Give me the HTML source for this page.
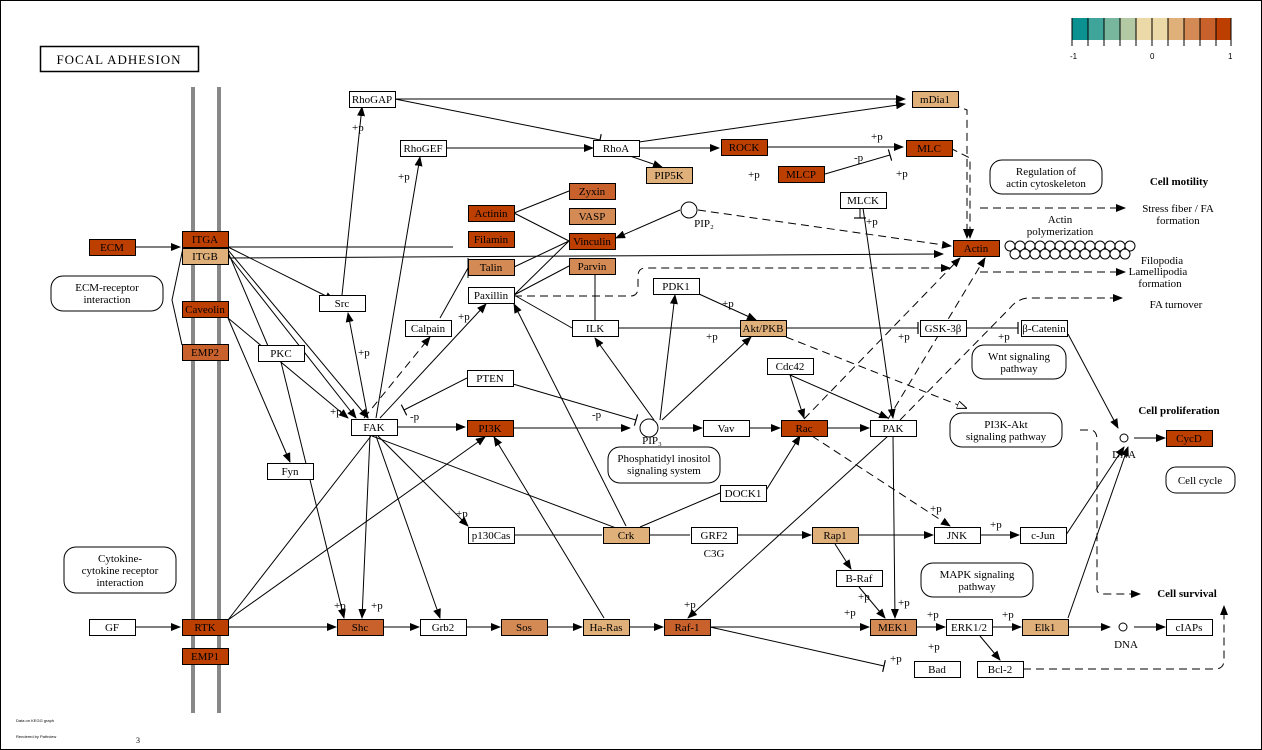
<!DOCTYPE html>
<html><head><meta charset="utf-8"><style>
html,body{margin:0;padding:0;background:#fff}
svg{display:block}
text{font-family:"Liberation Serif",serif;font-size:11px;fill:#000}
.n rect{stroke:#000;stroke-width:1}
.l{stroke:#000;stroke-width:1;fill:none}
.d{stroke:#000;stroke-width:1;fill:none;stroke-dasharray:8,5}
.s{font-size:11px}
</style></head><body>
<svg width="1262" height="750" viewBox="0 0 1262 750" xmlns="http://www.w3.org/2000/svg">
<defs>
<marker id="a" markerWidth="10" markerHeight="8" refX="9" refY="4" orient="auto" markerUnits="userSpaceOnUse"><path d="M0,0 L10,4 L0,8 z" fill="#000"/></marker>
<marker id="o" markerWidth="10" markerHeight="8" refX="9" refY="4" orient="auto" markerUnits="userSpaceOnUse"><path d="M0,0 L10,4 L0,8 z" fill="#fff" stroke="#000"/></marker>
<marker id="t" markerWidth="2" markerHeight="12" refX="1" refY="6" orient="auto" markerUnits="userSpaceOnUse"><path d="M1,0 L1,12" stroke="#000" stroke-width="1.2"/></marker>
</defs>
<rect x="0.5" y="0.5" width="1261" height="749" fill="none" stroke="#000"/>
<!-- legend -->
<g stroke="#000">
<rect x="1072" y="18" width="16" height="22" fill="#0C9191" stroke="none"/>
<rect x="1088" y="18" width="16" height="22" fill="#3FA49A" stroke="none"/>
<rect x="1104" y="18" width="16" height="22" fill="#78B79E" stroke="none"/>
<rect x="1120" y="18" width="16" height="22" fill="#B2C9A3" stroke="none"/>
<rect x="1136" y="18" width="16" height="22" fill="#ECD9A8" stroke="none"/>
<rect x="1152" y="18" width="16" height="22" fill="#ECD9A8" stroke="none"/>
<rect x="1168" y="18" width="16" height="22" fill="#E0B07A" stroke="none"/>
<rect x="1184" y="18" width="16" height="22" fill="#D48A55" stroke="none"/>
<rect x="1200" y="18" width="16" height="22" fill="#C8612C" stroke="none"/>
<rect x="1216" y="18" width="15" height="22" fill="#BC3F00" stroke="none"/>
<path d="M1072,18v28M1088,18v28M1104,18v28M1120,18v28M1136,18v28M1152,18v28M1168,18v28M1184,18v28M1200,18v28M1216,18v28M1231,18v28"/>
</g>
<text x="1070" y="59" style="font-size:8px;font-family:'Liberation Sans',sans-serif">-1</text>
<text x="1150" y="59" style="font-size:8px;font-family:'Liberation Sans',sans-serif">0</text>
<text x="1228" y="59" style="font-size:8px;font-family:'Liberation Sans',sans-serif">1</text>
<!-- title -->
<rect x="40.5" y="46.5" width="158" height="25" fill="#fff" stroke="#000" stroke-width="1.5"/>
<text x="119" y="64" text-anchor="middle" style="font-size:13px;letter-spacing:1px">FOCAL ADHESION</text>
<!-- membrane -->
<rect x="191" y="87" width="4" height="626" fill="#888"/>
<rect x="217" y="87" width="4" height="626" fill="#888"/>

<!-- edges -->
<g class="l">
<path d="M136,247H180" marker-end="url(#a)"/>
<path d="M228,247H453"/>
<path d="M228,247L334,300" marker-end="url(#a)"/>
<path d="M228,250L368,418" marker-end="url(#a)"/>
<path d="M228,252L268,346"/>
<path d="M228,255L356,418" marker-end="url(#a)"/>
<path d="M228,258L943,254" marker-end="url(#a)"/>
<path d="M183,248L172,300L182,345"/>
<path d="M228,318L348,418" marker-end="url(#a)"/>
<path d="M228,318L290,462" marker-end="url(#a)"/>
<path d="M281,362L344,618" marker-end="url(#a)"/>
<path d="M342,295L362,107" marker-end="url(#a)"/>
<path d="M395,99L600,140" marker-end="url(#t)"/>
<path d="M395,99L905,99" marker-end="url(#a)"/>
<path d="M446,148H593" marker-end="url(#a)"/>
<path d="M639,148H719" marker-end="url(#a)"/>
<path d="M639,142L905,104" marker-end="url(#a)"/>
<path d="M767,147H903" marker-end="url(#a)"/>
<path d="M825,174L890,155" marker-end="url(#t)"/>
<path d="M630,156L662,167" marker-end="url(#a)"/>
<path d="M680,210L616,238" marker-end="url(#a)"/>
<path d="M376,418L420,157" marker-end="url(#a)"/>
<path d="M368,418L348,313" marker-end="url(#a)"/>
<path d="M380,418L486,304" marker-end="url(#a)"/>
<path d="M380,427H465" marker-end="url(#a)"/>
<path d="M514,428H630" marker-end="url(#a)"/>
<path d="M370,436L362,618" marker-end="url(#a)"/>
<path d="M376,436L440,618" marker-end="url(#a)"/>
<path d="M378,436L468,526" marker-end="url(#a)"/>
<path d="M372,436L640,537"/>
<path d="M467,378L404,410" marker-end="url(#t)"/>
<path d="M513,384L636,420" marker-end="url(#t)"/>
<path d="M514,213L569,191M514,213L569,241M514,267L569,241M514,295L569,241M514,295L569,266M514,295L572,328"/>
<path d="M468,258V278"/>
<path d="M440,318L468,268"/>
<path d="M595,274V320"/>
<path d="M618,328H752" marker-end="url(#a)"/>
<path d="M660,420L675,295" marker-end="url(#a)"/>
<path d="M654,420L595,338" marker-end="url(#a)"/>
<path d="M662,420L751,337" marker-end="url(#a)"/>
<path d="M699,294L756,320" marker-end="url(#a)"/>
<path d="M786,328L918,328" marker-end="url(#t)"/>
<path d="M966,328H1018" marker-end="url(#t)"/>
<path d="M1068,334L1118,428" marker-end="url(#a)"/>
<path d="M660,428H702" marker-end="url(#a)"/>
<path d="M749,428H780" marker-end="url(#a)"/>
<path d="M827,428H869" marker-end="url(#a)"/>
<path d="M790,375L804,418" marker-end="url(#a)"/>
<path d="M790,375L888,418" marker-end="url(#a)"/>
<path d="M765,492L800,436" marker-end="url(#a)"/>
<path d="M863,208L893,418" marker-end="url(#a)"/>
<path d="M860,208V218" marker-end="url(#t)"/>
<path d="M888,436L688,618" marker-end="url(#a)"/>
<path d="M893,436L895,618" marker-end="url(#a)"/>
<path d="M514,535H602"/>
<path d="M649,535H690"/>
<path d="M737,535H811" marker-end="url(#a)"/>
<path d="M858,535H933" marker-end="url(#a)"/>
<path d="M980,535H1019" marker-end="url(#a)"/>
<path d="M1066,535L1124,447" marker-end="url(#a)"/>
<path d="M626,526L514,304" marker-end="url(#a)"/>
<path d="M640,527L720,493"/>
<path d="M835,544L851,569" marker-end="url(#a)"/>
<path d="M859,587L885,618" marker-end="url(#a)"/>
<path d="M136,627H180" marker-end="url(#a)"/>
<path d="M228,627H336" marker-end="url(#a)"/>
<path d="M228,620L485,437" marker-end="url(#a)"/>
<path d="M228,620L371,436"/>
<path d="M383,627H419" marker-end="url(#a)"/>
<path d="M466,627H500" marker-end="url(#a)"/>
<path d="M547,627H582" marker-end="url(#a)"/>
<path d="M629,627H663" marker-end="url(#a)"/>
<path d="M604,618L494,437" marker-end="url(#a)"/>
<path d="M710,627H869" marker-end="url(#a)"/>
<path d="M710,627L884,666" marker-end="url(#t)"/>
<path d="M916,627H945" marker-end="url(#a)"/>
<path d="M992,627H1021" marker-end="url(#a)"/>
<path d="M980,636L1000,660" marker-end="url(#a)"/>
<path d="M1068,627H1110" marker-end="url(#a)"/>
<path d="M1068,618L1128,447" marker-end="url(#a)"/>
<path d="M1134,627H1165" marker-end="url(#a)"/>
<path d="M1134,438H1165" marker-end="url(#a)"/>
</g>
<g class="d">
<path d="M364,418L430,337" marker-end="url(#a)"/>
<path d="M698,210L951,246" marker-end="url(#a)"/>
<path d="M952,104L967,110V238" marker-end="url(#a)"/>
<path d="M950,148L970,158V238" marker-end="url(#a)"/>
<path d="M514,296H630Q638,296 638,288V276Q638,268 646,268H950" marker-end="url(#a)"/>
<path d="M980,208H1125" marker-end="url(#a)"/>
<path d="M980,272H1125" marker-end="url(#a)"/>
<path d="M786,337L966,408" marker-end="url(#o)"/>
<path d="M804,419L960,258" marker-end="url(#a)"/>
<path d="M888,419L985,258" marker-end="url(#a)"/>
<path d="M900,420L1010,308Q1018,298 1030,298H1122" marker-end="url(#a)"/>
<path d="M812,436L950,526" marker-end="url(#a)"/>
<path d="M1080,430H1090Q1097,430 1097,440V590Q1097,594 1105,594H1140" marker-end="url(#a)"/>
<path d="M1023,669H1215Q1224,669 1224,660V606" marker-end="url(#a)"/>
</g>
<circle cx="689" cy="210" r="8" fill="#fff" stroke="#000"/>
<circle cx="649" cy="428" r="9" fill="#fff" stroke="#000"/>
<circle cx="1124" cy="438" r="4" fill="#fff" stroke="#000"/>
<circle cx="1123" cy="627" r="4" fill="#fff" stroke="#000"/>
<!-- actin polymer circles -->
<g fill="#fff" stroke="#000">
<circle cx="1010" cy="246" r="5"/><circle cx="1020" cy="246" r="5"/><circle cx="1030" cy="246" r="5"/><circle cx="1040" cy="246" r="5"/><circle cx="1050" cy="246" r="5"/><circle cx="1060" cy="246" r="5"/><circle cx="1070" cy="246" r="5"/><circle cx="1080" cy="246" r="5"/><circle cx="1090" cy="246" r="5"/><circle cx="1100" cy="246" r="5"/><circle cx="1110" cy="246" r="5"/><circle cx="1120" cy="246" r="5"/><circle cx="1130" cy="246" r="5"/>
<circle cx="1015" cy="254" r="5"/><circle cx="1025" cy="254" r="5"/><circle cx="1035" cy="254" r="5"/><circle cx="1045" cy="254" r="5"/><circle cx="1055" cy="254" r="5"/><circle cx="1065" cy="254" r="5"/><circle cx="1075" cy="254" r="5"/><circle cx="1085" cy="254" r="5"/><circle cx="1095" cy="254" r="5"/><circle cx="1105" cy="254" r="5"/><circle cx="1115" cy="254" r="5"/><circle cx="1125" cy="254" r="5"/>
</g>

<!-- nodes -->
<g class="n">
<rect x="89.5" y="239.5" width="46" height="16" fill="#BC3F00"/>
<rect x="182.5" y="231.5" width="46" height="16" fill="#BC3F00"/>
<rect x="182.5" y="248.5" width="46" height="16" fill="#E0B07A"/>
<rect x="182.5" y="301.5" width="46" height="16" fill="#BC3F00"/>
<rect x="182.5" y="344.5" width="46" height="16" fill="#C8612C"/>
<rect x="258.5" y="345.5" width="46" height="16" fill="#fff"/>
<rect x="319.5" y="295.5" width="46" height="16" fill="#fff"/>
<rect x="267.5" y="463.5" width="46" height="16" fill="#fff"/>
<rect x="89.5" y="619.5" width="46" height="16" fill="#fff"/>
<rect x="182.5" y="619.5" width="46" height="16" fill="#BC3F00"/>
<rect x="182.5" y="648.5" width="46" height="16" fill="#BC3F00"/>
<rect x="349.5" y="91.5" width="46" height="16" fill="#fff"/>
<rect x="400.5" y="140.5" width="46" height="16" fill="#fff"/>
<rect x="405.5" y="320.5" width="46" height="16" fill="#fff"/>
<rect x="351.5" y="419.5" width="46" height="16" fill="#fff"/>
<rect x="467.5" y="370.5" width="46" height="16" fill="#fff"/>
<rect x="467.5" y="420.5" width="46" height="16" fill="#BC3F00"/>
<rect x="468.5" y="287.5" width="46" height="16" fill="#fff"/>
<rect x="468.5" y="205.5" width="46" height="16" fill="#BC3F00"/>
<rect x="468.5" y="231.5" width="46" height="16" fill="#BC3F00"/>
<rect x="468.5" y="259.5" width="46" height="16" fill="#D48A55"/>
<rect x="569.5" y="183.5" width="46" height="16" fill="#C8612C"/>
<rect x="569.5" y="208.5" width="46" height="16" fill="#D48A55"/>
<rect x="569.5" y="233.5" width="46" height="16" fill="#BC3F00"/>
<rect x="569.5" y="258.5" width="46" height="16" fill="#D48A55"/>
<rect x="572.5" y="320.5" width="46" height="16" fill="#fff"/>
<rect x="646.5" y="167.5" width="46" height="16" fill="#E0B07A"/>
<rect x="593.5" y="140.5" width="46" height="16" fill="#fff"/>
<rect x="721.5" y="139.5" width="46" height="16" fill="#BC3F00"/>
<rect x="778.5" y="166.5" width="46" height="16" fill="#BC3F00"/>
<rect x="906.5" y="140.5" width="46" height="16" fill="#BC3F00"/>
<rect x="912.5" y="91.5" width="46" height="16" fill="#E0B07A"/>
<rect x="840.5" y="192.5" width="46" height="16" fill="#fff"/>
<rect x="953.5" y="240.5" width="46" height="16" fill="#BC3F00"/>
<rect x="653.5" y="278.5" width="46" height="16" fill="#fff"/>
<rect x="740.5" y="320.5" width="46" height="16" fill="#E0B07A"/>
<rect x="920.5" y="320.5" width="46" height="16" fill="#fff"/>
<rect x="1021.5" y="320.5" width="46" height="16" fill="#fff"/>
<rect x="767.5" y="358.5" width="46" height="16" fill="#fff"/>
<rect x="703.5" y="420.5" width="46" height="16" fill="#fff"/>
<rect x="781.5" y="420.5" width="46" height="16" fill="#BC3F00"/>
<rect x="870.5" y="420.5" width="46" height="16" fill="#fff"/>
<rect x="720.5" y="485.5" width="46" height="16" fill="#fff"/>
<rect x="468.5" y="527.5" width="46" height="16" fill="#fff"/>
<rect x="603.5" y="527.5" width="46" height="16" fill="#E0B07A"/>
<rect x="691.5" y="527.5" width="46" height="16" fill="#fff"/>
<rect x="812.5" y="527.5" width="46" height="16" fill="#E0B07A"/>
<rect x="934.5" y="527.5" width="46" height="16" fill="#fff"/>
<rect x="1020.5" y="527.5" width="46" height="16" fill="#fff"/>
<rect x="836.5" y="570.5" width="46" height="16" fill="#fff"/>
<rect x="337.5" y="619.5" width="46" height="16" fill="#C8612C"/>
<rect x="420.5" y="619.5" width="46" height="16" fill="#fff"/>
<rect x="501.5" y="619.5" width="46" height="16" fill="#D48A55"/>
<rect x="583.5" y="619.5" width="46" height="16" fill="#E0B07A"/>
<rect x="664.5" y="619.5" width="46" height="16" fill="#C8612C"/>
<rect x="870.5" y="619.5" width="46" height="16" fill="#D48A55"/>
<rect x="946.5" y="619.5" width="46" height="16" fill="#fff"/>
<rect x="1022.5" y="619.5" width="46" height="16" fill="#E0B07A"/>
<rect x="914.5" y="661.5" width="46" height="16" fill="#fff"/>
<rect x="977.5" y="661.5" width="46" height="16" fill="#fff"/>
<rect x="1166.5" y="430.5" width="46" height="16" fill="#BC3F00"/>
<rect x="1166.5" y="619.5" width="46" height="16" fill="#fff"/>
</g>
<g text-anchor="middle">
<text x="112" y="251">ECM</text><text x="205" y="243">ITGA</text><text x="205" y="260">ITGB</text>
<text x="205" y="313">Caveolin</text><text x="205" y="356">EMP2</text><text x="281" y="357">PKC</text>
<text x="342" y="307">Src</text><text x="290" y="475">Fyn</text><text x="112" y="631">GF</text>
<text x="205" y="631">RTK</text><text x="205" y="660">EMP1</text><text x="372" y="103">RhoGAP</text>
<text x="423" y="152">RhoGEF</text><text x="428" y="332">Calpain</text><text x="374" y="431">FAK</text>
<text x="490" y="382">PTEN</text><text x="490" y="432">PI3K</text><text x="491" y="299">Paxillin</text>
<text x="491" y="217">Actinin</text><text x="491" y="243">Filamin</text><text x="491" y="271">Talin</text>
<text x="592" y="195">Zyxin</text><text x="592" y="220">VASP</text><text x="592" y="245">Vinculin</text>
<text x="592" y="270">Parvin</text><text x="595" y="332">ILK</text><text x="669" y="179">PIP5K</text>
<text x="616" y="152">RhoA</text><text x="744" y="151">ROCK</text><text x="801" y="178">MLCP</text>
<text x="929" y="152">MLC</text><text x="935" y="103">mDia1</text><text x="863" y="204">MLCK</text>
<text x="976" y="252">Actin</text><text x="676" y="290">PDK1</text><text x="763" y="332">Akt/PKB</text>
<text x="943" y="332">GSK-3β</text><text x="1044" y="332">β-Catenin</text><text x="790" y="370">Cdc42</text>
<text x="726" y="432">Vav</text><text x="804" y="432">Rac</text><text x="893" y="432">PAK</text>
<text x="743" y="497">DOCK1</text><text x="491" y="539">p130Cas</text><text x="626" y="539">Crk</text>
<text x="714" y="539">GRF2</text><text x="714" y="557">C3G</text><text x="835" y="539">Rap1</text>
<text x="957" y="539">JNK</text><text x="1043" y="539">c-Jun</text><text x="859" y="582">B-Raf</text>
<text x="360" y="631">Shc</text><text x="443" y="631">Grb2</text><text x="524" y="631">Sos</text>
<text x="606" y="631">Ha-Ras</text><text x="687" y="631">Raf-1</text><text x="893" y="631">MEK1</text>
<text x="969" y="631">ERK1/2</text><text x="1045" y="631">Elk1</text><text x="937" y="673">Bad</text>
<text x="1000" y="673">Bcl-2</text><text x="1189" y="442">CycD</text><text x="1189" y="631">cIAPs</text>
<text x="704" y="227">PIP₂</text><text x="652" y="444">PIP₃</text>
<text x="1124" y="458">DNA</text><text x="1126" y="648">DNA</text>
</g>
<!-- rounded -->
<g fill="#fff" stroke="#000">
<rect x="51" y="276" width="112" height="35" rx="12"/>
<rect x="64" y="547" width="112" height="46" rx="12"/>
<rect x="990" y="160" width="112" height="34" rx="12"/>
<rect x="972" y="345" width="94" height="34" rx="12"/>
<rect x="950" y="413" width="112" height="34" rx="12"/>
<rect x="608" y="447" width="112" height="36" rx="12"/>
<rect x="921" y="563" width="112" height="34" rx="12"/>
<rect x="1166" y="467" width="69" height="26" rx="10"/>
</g>
<g text-anchor="middle">
<text x="107" y="291">ECM-receptor</text><text x="107" y="303">interaction</text>
<text x="120" y="562">Cytokine-</text><text x="120" y="574">cytokine receptor</text><text x="120" y="586">interaction</text>
<text x="1046" y="175">Regulation of</text><text x="1046" y="187">actin cytoskeleton</text>
<text x="1019" y="360">Wnt signaling</text><text x="1019" y="372">pathway</text>
<text x="1006" y="428">PI3K-Akt</text><text x="1006" y="440">signaling pathway</text>
<text x="664" y="462">Phosphatidyl inositol</text><text x="664" y="474">signaling system</text>
<text x="977" y="578">MAPK signaling</text><text x="977" y="590">pathway</text>
<text x="1200" y="484">Cell cycle</text>
<text x="1060" y="223">Actin</text><text x="1060" y="235">polymerization</text>
<text x="1178" y="212">Stress fiber / FA</text><text x="1178" y="224">formation</text>
<text x="1162" y="264">Filopodia</text><text x="1158" y="275">Lamellipodia</text><text x="1160" y="287">formation</text>
<text x="1176" y="308">FA turnover</text>
</g>
<g style="font-weight:bold" text-anchor="middle">
<text x="1179" y="185" style="font-weight:bold">Cell motility</text>
<text x="1179" y="414" style="font-weight:bold">Cell proliferation</text>
<text x="1187" y="597" style="font-weight:bold">Cell survival</text>
</g>
<g class="s">
<text x="352" y="131">+p</text><text x="398" y="180">+p</text><text x="358" y="356">+p</text>
<text x="330" y="415">+p</text><text x="458" y="320">+p</text><text x="410" y="420">-p</text>
<text x="592" y="418">-p</text><text x="748" y="178">+p</text><text x="854" y="161">-p</text>
<text x="871" y="140">+p</text><text x="896" y="177">+p</text><text x="866" y="225">+p</text>
<text x="722" y="307">+p</text><text x="706" y="340">+p</text><text x="898" y="340">+p</text>
<text x="998" y="340">+p</text><text x="456" y="517">+p</text><text x="930" y="512">+p</text>
<text x="990" y="528">+p</text><text x="334" y="609">+p</text><text x="371" y="609">+p</text>
<text x="684" y="608">+p</text><text x="858" y="600">+p</text><text x="844" y="616">+p</text>
<text x="898" y="606">+p</text><text x="927" y="618">+p</text><text x="1002" y="618">+p</text>
<text x="928" y="650">+p</text><text x="890" y="662">+p</text>
</g>
<text x="16" y="722" style="font-size:4px;font-family:'Liberation Sans',sans-serif">Data on KEGG graph</text>
<text x="16" y="738" style="font-size:4px;font-family:'Liberation Sans',sans-serif">Rendered by Pathview</text>
<text x="136" y="743" style="font-size:8px">3</text>
</svg>
</body></html>
